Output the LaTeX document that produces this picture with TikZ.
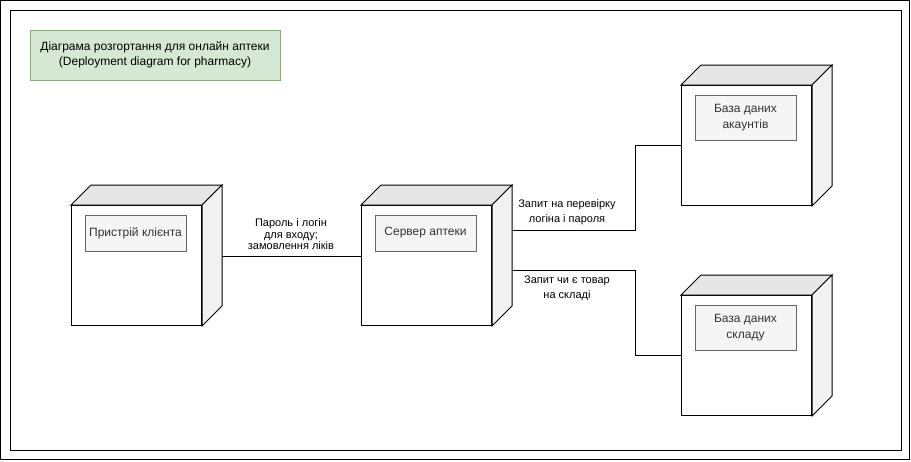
\documentclass[tikz,border=0pt]{standalone}
\usepackage{fontspec}
\setmainfont{Liberation Sans}
\usetikzlibrary{calc}

\definecolor{noteFill}{HTML}{D5E8D4}
\definecolor{noteLine}{HTML}{82B366}
\definecolor{topGray}{HTML}{E6E6E6}
\definecolor{sideGray}{HTML}{F2F2F2}
\definecolor{artFill}{HTML}{F5F5F5}
\definecolor{artLine}{HTML}{666666}
\definecolor{artText}{HTML}{333333}

\tikzset{
  frame/.style={draw=black, line width=1pt},
  note/.style={draw=noteLine, fill=noteFill, line width=1pt, align=center,
    minimum width=250pt, minimum height=50pt, inner sep=0pt,
    font=\fontsize{12}{15.5}\selectfont},
  front/.style={draw=black, fill=white, line width=1pt, inner sep=0pt, anchor=north west},
  topface/.style={draw=black, fill=topGray, line width=1pt, line join=miter},
  sideface/.style={draw=black, fill=sideGray, line width=1pt, line join=miter},
  artifact/.style={draw=artLine, fill=artFill, text=artText, line width=1pt,
    align=center, inner sep=0pt, minimum width=101pt,
    font=\fontsize{12}{15.5}\selectfont},
  conn/.style={draw=black, line width=1pt},
  connlabel/.style={align=center, inner sep=0pt, font=\fontsize{11}{11.5}\selectfont},
  connlabelwide/.style={connlabel, font=\fontsize{11}{15}\selectfont}
}

% device node: front face plus top and right faces of the cube
\newcommand{\devnode}[3]{%
  \node[front, minimum width=130pt, minimum height=120pt] (#1) at (#2,#3) {};
  \draw[topface] (#1.north west) -- ++(20,-20) -- ($(#1.north east)+(20,-20)$) -- (#1.north east) -- cycle;
  \draw[sideface] (#1.north east) -- ++(20,-20) -- ($(#1.south east)+(20,-20)$) -- (#1.south east) -- cycle;
}

\begin{document}
\begin{tikzpicture}[x=1pt, y=-1pt]
  \useasboundingbox (0,0) rectangle (911,461);
  \fill[white] (0,0) rectangle (911,461);

  % frames
  \draw[frame] (0.5,0.5) rectangle (909.5,459.5);
  \draw[frame] (10.5,10.5) rectangle (901.5,450.5);

  % title note
  \node[note] (title) at (155,55) {Діаграма розгортання для онлайн аптеки\\(Deployment diagram for pharmacy)};

  % devices
  \devnode{client}{71}{205}
  \devnode{server}{361}{205}
  \devnode{dbacc}{681}{85}
  \devnode{dbstock}{681}{295}

  % artifacts
  \node[artifact, minimum height=36pt] (clientart) at (135.5,233) {Пристрій клієнта};
  \node[artifact, minimum height=36pt] (serverart) at (425.5,233) {Сервер аптеки};
  \node[artifact, minimum height=45pt] (dbaccart) at (745.5,117.5) {База даних\\акаунтів};
  \node[artifact, minimum height=45pt] (dbstockart) at (745.5,327.5) {База даних\\складу};

  % connector end points on the cube outlines
  \coordinate (c1) at ($(client.north east)+(20,51)$);
  \coordinate (s0) at (server.west |- c1);
  \coordinate (s1) at ($(server.north east)+(20,25)$);
  \coordinate (s2) at ($(server.north east)+(20,65)$);
  \coordinate (bend) at (635,0);

  % connectors
  \draw[conn] (c1) -- (s0);
  \draw[conn] (s1) -- (s1 -| bend) |- (dbacc.west);
  \draw[conn] (s2) -- (s2 -| bend) |- (dbstock.west);

  % connector labels
  \node[connlabel] (l1) at (291,234.5) {Пароль і логін\\для входу;\\замовлення ліків};
  \node[connlabelwide] (l2) at (567,212.5) {Запит на перевірку\\логіна і пароля};
  \node[connlabelwide] (l3) at (567,288) {Запит чи є товар\\на складі};
\end{tikzpicture}
\end{document}
